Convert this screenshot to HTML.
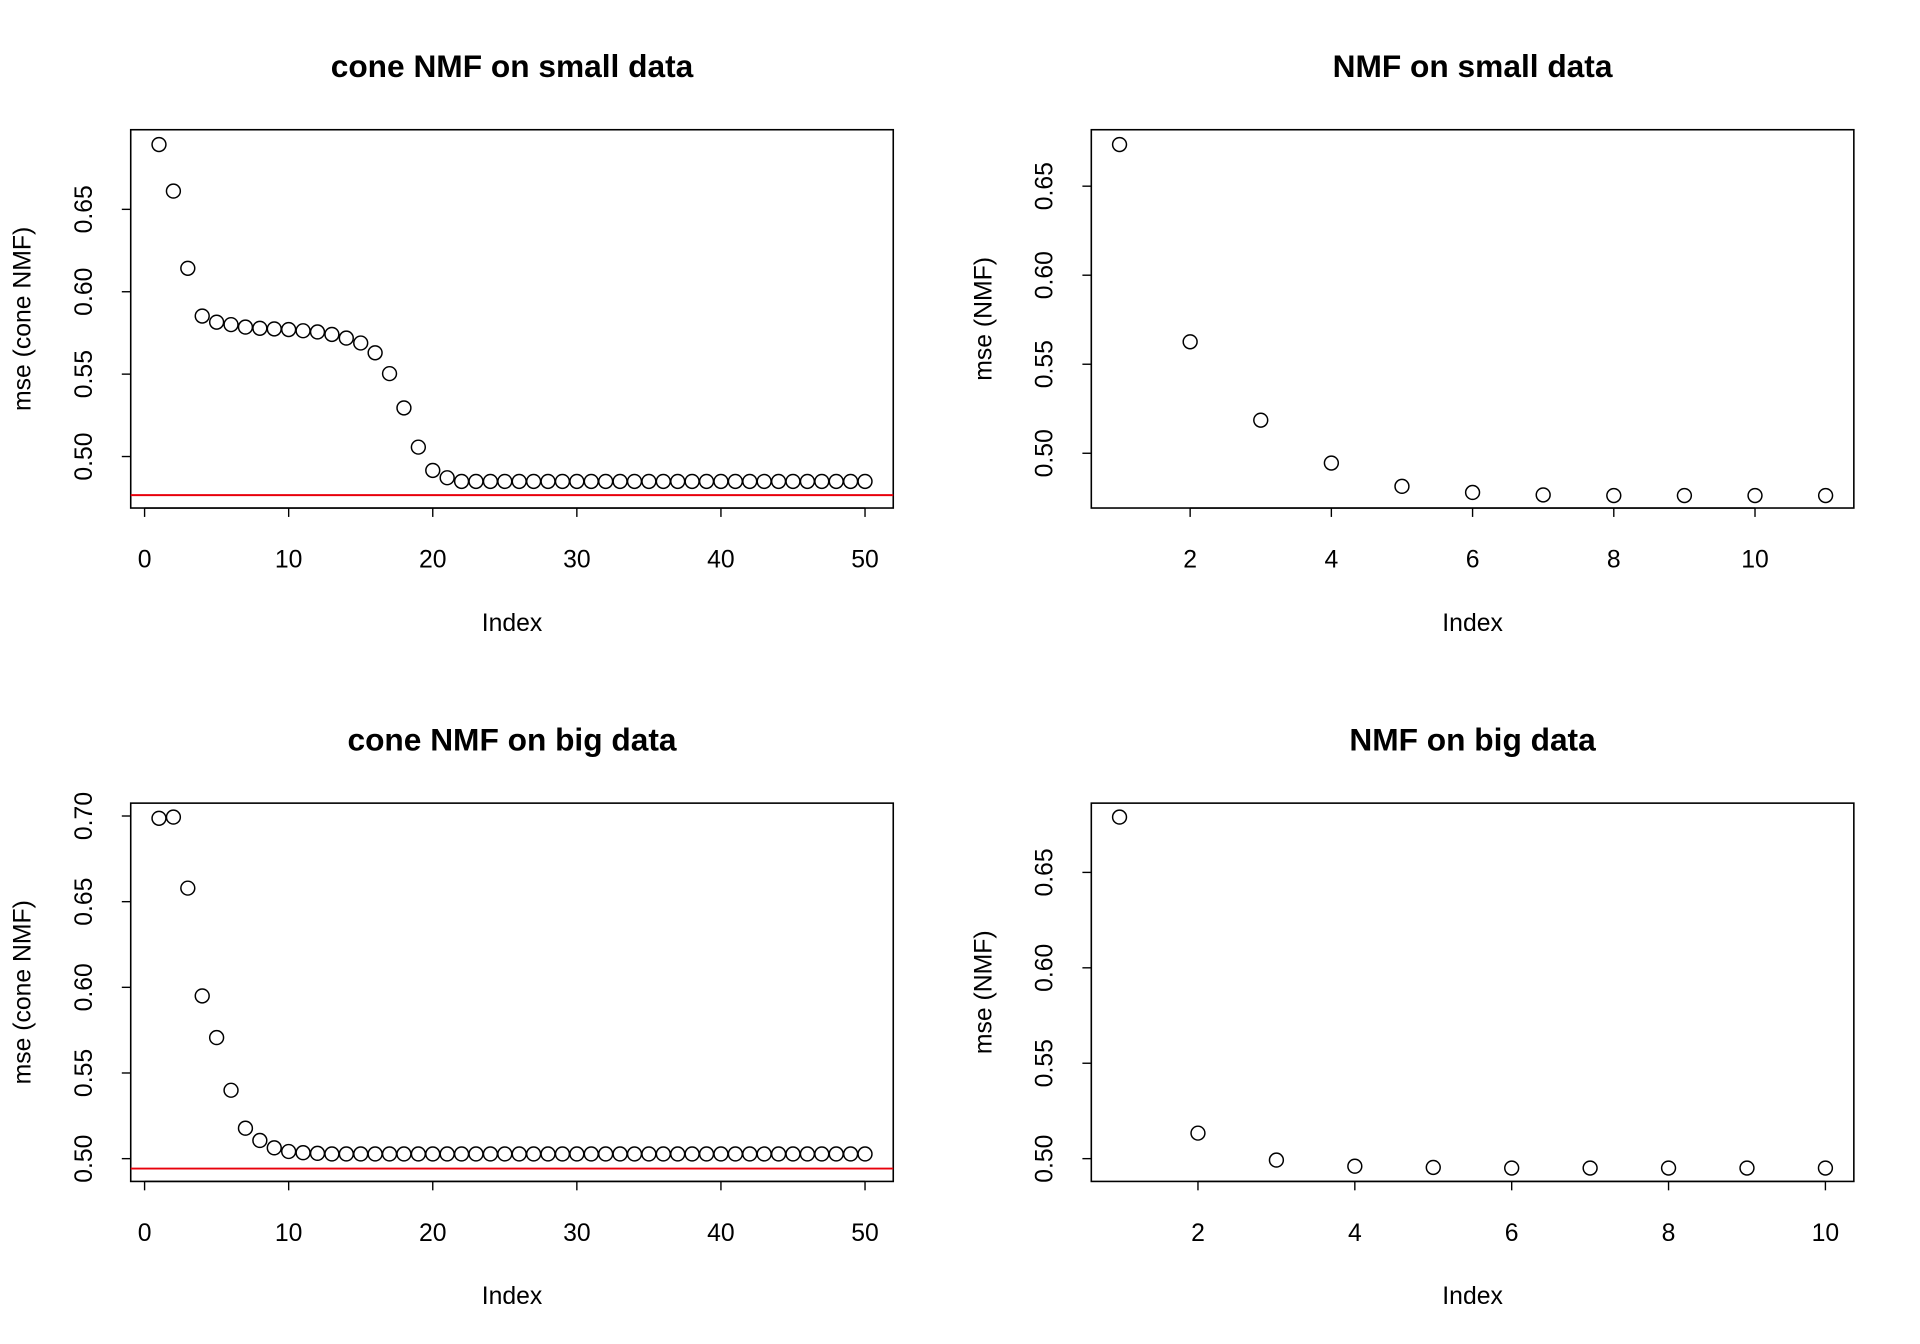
<!DOCTYPE html>
<html><head><meta charset="utf-8"><style>
html,body{margin:0;padding:0;background:#fff;width:1920px;height:1344px;overflow:hidden}
svg text{font-family:"Liberation Sans",Arial,sans-serif;fill:#000}
</style></head><body>
<svg width="1920" height="1344" xmlns="http://www.w3.org/2000/svg"><g id="s" transform="scale(0.9903)"></g></svg>
<script>
const S=1.237;
const svg=document.getElementById('s');
let h='';
function panel(o){
  const L=o.L,R=o.L+770,T=o.T,B=o.T+382;
  h+=`<rect x="${L}" y="${T}" width="770" height="382" fill="none" stroke="#000" stroke-width="1.6"/>`;
  h+=`<text x="${(L+R)/2}" y="${T-53}" text-anchor="middle" font-size="32" font-weight="bold">${o.title}</text>`;
  const xs=v=>o.x0+(v-o.xv0)*o.xu;
  let first=null,last=null;
  o.xt.forEach(v=>{const x=xs(v);if(first===null)first=x;last=x;
    h+=`<line x1="${x}" y1="${B}" x2="${x}" y2="${B+9}" stroke="#000" stroke-width="1.4"/>`;
    h+=`<text x="${x}" y="${B+60}" text-anchor="middle" font-size="25">${v}</text>`;});
  h+=`<line x1="${first}" y1="${B}" x2="${last}" y2="${B}" stroke="#000" stroke-width="1.4"/>`;
  h+=`<text x="${(L+R)/2}" y="${B+124}" text-anchor="middle" font-size="25">Index</text>`;
  o.yt.forEach((v,i)=>{const y=o.y0+(o.yv0-v)*o.yu;
    h+=`<line x1="${L-9}" y1="${y}" x2="${L}" y2="${y}" stroke="#000" stroke-width="1.4"/>`;
    h+=`<text transform="translate(${L-39},${y}) rotate(-90)" text-anchor="middle" font-size="25">${v.toFixed(2)}</text>`;});
  const fy=o.y0+(o.yv0-o.yt[o.yt.length-1])*o.yu;
  h+=`<line x1="${L}" y1="${o.y0}" x2="${L}" y2="${fy}" stroke="#000" stroke-width="1.4"/>`;
  h+=`<text transform="translate(${L-101},${(T+B)/2}) rotate(-90)" text-anchor="middle" font-size="25">${o.ylab}</text>`;
  if(o.red) h+=`<line x1="${L}" y1="${o.red}" x2="${R}" y2="${o.red}" stroke="#e8000b" stroke-width="2"/>`;
  o.pts.forEach((d,i)=>{h+=`<circle cx="${xs(i+1)}" cy="${d*S}" r="7" fill="none" stroke="#000" stroke-width="1.5"/>`;});
}
let tl=[118,156,219,258,263,265,267,268,268.5,269,270,271,273,276,280,288,305,333,365,384,390];
while(tl.length<50)tl.push(393);
let bl=[668,667,725,813,847,890,921,931,937,940,941,941.5];
while(bl.length<50)bl.push(942);
panel({L:132,T:131,title:'cone NMF on small data',x0:146,xv0:0,xu:14.55,xt:[0,10,20,30,40,50],
  y0:461,yv0:0.5,yu:1664,yt:[0.5,0.55,0.6,0.65],ylab:'mse (cone NMF)',red:500,pts:tl});
panel({L:1102,T:131,title:'NMF on small data',x0:1130.5,xv0:1,xu:71.3,xt:[2,4,6,8,10],
  y0:457.7,yv0:0.5,yu:1798,yt:[0.5,0.55,0.6,0.65],ylab:'mse (NMF)',pts:[118,279,343,378,397,402,404,404.5,404.5,404.5,404.5]});
panel({L:132,T:811,title:'cone NMF on big data',x0:146,xv0:0,xu:14.55,xt:[0,10,20,30,40,50],
  y0:1170,yv0:0.5,yu:1730,yt:[0.5,0.55,0.6,0.65,0.7],ylab:'mse (cone NMF)',red:1180,pts:bl});
panel({L:1102,T:811,title:'NMF on big data',x0:1130.5,xv0:1,xu:79.2,xt:[2,4,6,8,10],
  y0:1170,yv0:0.5,yu:1927,yt:[0.5,0.55,0.6,0.65],ylab:'mse (NMF)',pts:[667,925,947,952,953,953.5,953.5,953.5,953.5,953.5]});
svg.innerHTML=h;
</script>
</body></html>
